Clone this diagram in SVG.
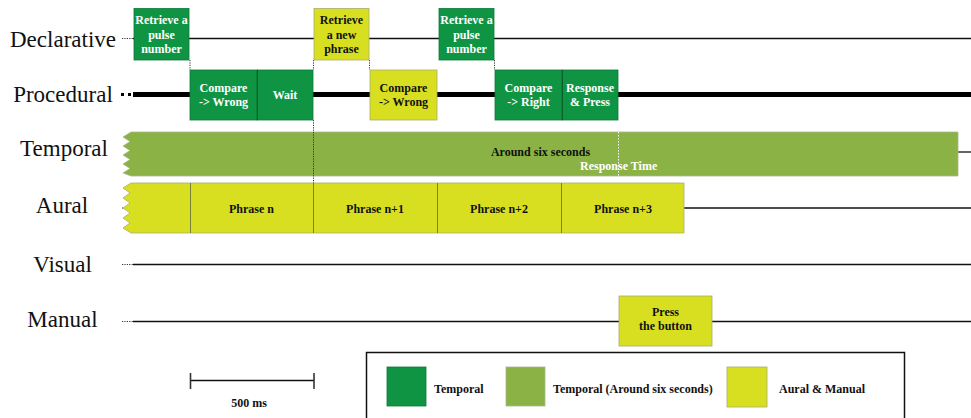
<svg xmlns="http://www.w3.org/2000/svg" width="971" height="418" viewBox="0 0 971 418">
<style>
  .lane { font-family: "Liberation Serif", "Times New Roman", serif; font-size: 23px; fill: #111; text-anchor: middle; }
  .bt { font-family: "Liberation Serif", "Times New Roman", serif; font-size: 12px; font-weight: bold; text-anchor: middle; }
  .w { fill: #ffffff; }
  .k { fill: #111111; }
  .g { fill: #0f9444; stroke: #0b7a37; stroke-width: 0.8; }
  .y { fill: #d8df21; stroke: #a9ad6a; stroke-width: 0.8; }
  .lg { fill: #8bb244; stroke: #a8b890; stroke-width: 0.8; }
  .line { stroke: #111; stroke-width: 1.3; fill: none; }
  .thick { stroke: #000; stroke-width: 5; fill: none; }
  .dot { stroke: #333; stroke-width: 1; stroke-dasharray: 1.2 1.2; fill: none; }
  .wdot { stroke: #ffffff; stroke-width: 1; stroke-dasharray: 1.5 1.5; fill: none; }
  .div { stroke: #7a7f3a; stroke-width: 1; }
  .gdiv { stroke: #0a5f2c; stroke-width: 1; }
  .leg { font-family: "Liberation Serif", "Times New Roman", serif; font-size: 12px; font-weight: bold; fill: #111; }
</style>
<rect width="971" height="418" fill="#ffffff"/>

<g id="lane-labels">
  <text class="lane" x="63" y="47">Declarative</text>
  <text class="lane" x="63" y="102">Procedural</text>
  <text class="lane" x="64" y="156">Temporal</text>
  <text class="lane" x="62" y="213">Aural</text>
  <text class="lane" x="62.5" y="272">Visual</text>
  <text class="lane" x="62.5" y="327">Manual</text>
</g>

<g id="connectors">
  <!-- declarative lane -->
  <line class="dot" x1="122" y1="38.5" x2="133" y2="38.5"/>
  <line class="line" x1="133" y1="38.5" x2="971" y2="38.5"/>
  <!-- procedural lane -->
  <rect x="121" y="93" width="3" height="3" fill="#000"/>
  <rect x="128" y="93" width="3" height="3" fill="#000"/>
  <line class="thick" x1="133" y1="94.5" x2="971" y2="94.5"/>
  <!-- temporal lane tail -->
  <line class="line" x1="958" y1="152" x2="971" y2="152"/>
  <!-- aural lane -->
  <line class="dot" x1="122" y1="208" x2="133" y2="208"/>
  <line class="line" x1="684" y1="208" x2="971" y2="208"/>
  <!-- visual lane -->
  <line class="dot" x1="122" y1="264.5" x2="133" y2="264.5"/>
  <line class="line" x1="133" y1="264.5" x2="971" y2="264.5"/>
  <!-- manual lane -->
  <line class="dot" x1="122" y1="321.5" x2="133" y2="321.5"/>
  <line class="line" x1="133" y1="321.5" x2="971" y2="321.5"/>
  <!-- vertical dotted links -->
  <line class="dot" x1="190" y1="60" x2="190" y2="70"/>
  <line class="dot" x1="313.5" y1="60" x2="313.5" y2="70"/>
  <line class="dot" x1="369.5" y1="60" x2="369.5" y2="70"/>
  <line class="dot" x1="494.5" y1="60" x2="494.5" y2="70"/>
</g>

<g id="temporal-bar">
  <polygon class="lg" points="131,132 958,132 958,176 131,176 123,173 130,168.5 123,164 130,159.5 123,155 130,150.5 123,146 130,141.5 123,137"/>
  <text class="bt k" x="540.5" y="156">Around six seconds</text>
  <text class="bt w" x="580" y="170" style="text-anchor:start">Response Time</text>
</g>

<g id="aural-bar">
  <polygon class="y" points="131,183 684,183 684,233 131,233 123,228 130,223 123,218 130,213 123,208 130,203 123,198 130,193 123,188"/>
  <line class="div" x1="190.5" y1="183" x2="190.5" y2="233"/>
  <line class="div" x1="313.5" y1="183" x2="313.5" y2="233"/>
  <line class="div" x1="437.5" y1="183" x2="437.5" y2="233"/>
  <line class="div" x1="561.5" y1="183" x2="561.5" y2="233"/>
  <text class="bt k" x="251.5" y="213">Phrase n</text>
  <text class="bt k" x="375" y="213">Phrase n+1</text>
  <text class="bt k" x="499" y="213">Phrase n+2</text>
  <text class="bt k" x="623" y="213">Phrase n+3</text>
</g>

<g id="overlay-dots">
  <line class="dot" x1="313.5" y1="120" x2="313.5" y2="183"/>
  <line class="wdot" x1="618.5" y1="132" x2="618.5" y2="176"/>
</g>

<g id="decl-retrieve-1">
  <rect class="g" x="134" y="8.5" width="55" height="51.5"/>
  <text class="bt w" x="161.5" y="24">Retrieve a</text>
  <text class="bt w" x="161.5" y="38.5">pulse</text>
  <text class="bt w" x="161.5" y="53">number</text>
</g>
<g id="decl-retrieve-phrase">
  <rect class="y" x="314" y="8.5" width="55" height="51.5"/>
  <text class="bt k" x="341.5" y="24">Retrieve</text>
  <text class="bt k" x="341.5" y="38.5">a new</text>
  <text class="bt k" x="341.5" y="53">phrase</text>
</g>
<g id="decl-retrieve-2">
  <rect class="g" x="439" y="8.5" width="55" height="51.5"/>
  <text class="bt w" x="466.5" y="24">Retrieve a</text>
  <text class="bt w" x="466.5" y="38.5">pulse</text>
  <text class="bt w" x="466.5" y="53">number</text>
</g>

<g id="proc-compare-wrong-1">
  <rect class="g" x="190" y="70" width="67" height="50"/>
  <text class="bt w" x="223.5" y="92">Compare</text>
  <text class="bt w" x="223.5" y="105.5">-&gt; Wrong</text>
</g>
<g id="proc-wait">
  <rect class="g" x="257" y="70" width="56" height="50"/>
  <line class="gdiv" x1="257.5" y1="70" x2="257.5" y2="120"/>
  <text class="bt w" x="285" y="98.5">Wait</text>
</g>
<g id="proc-compare-wrong-2">
  <rect class="y" x="370" y="70" width="67" height="50"/>
  <text class="bt k" x="403.5" y="92">Compare</text>
  <text class="bt k" x="403.5" y="105.5">-&gt; Wrong</text>
</g>
<g id="proc-compare-right">
  <rect class="g" x="495" y="70" width="67" height="50"/>
  <text class="bt w" x="528.5" y="92">Compare</text>
  <text class="bt w" x="528.5" y="105.5">-&gt; Right</text>
</g>
<g id="proc-response">
  <rect class="g" x="562" y="70" width="56" height="50"/>
  <line class="gdiv" x1="562.5" y1="70" x2="562.5" y2="120"/>
  <text class="bt w" x="590" y="92">Response</text>
  <text class="bt w" x="590" y="105.5">&amp; Press</text>
</g>

<g id="manual-press">
  <rect class="y" x="619" y="296" width="93" height="50"/>
  <text class="bt k" x="665.5" y="316">Press</text>
  <text class="bt k" x="665.5" y="330">the button</text>
</g>

<g id="scale-bar">
  <line class="line" x1="190.5" y1="380.5" x2="314" y2="380.5"/>
  <line stroke="#333" stroke-width="1.6" x1="190.5" y1="373" x2="190.5" y2="389"/>
  <line stroke="#333" stroke-width="1.6" x1="314" y1="373" x2="314" y2="389"/>
  <text class="bt k" x="249" y="407">500 ms</text>
</g>

<g id="legend">
  <rect x="366.5" y="352.5" width="538" height="80" fill="none" stroke="#111" stroke-width="1.5"/>
  <rect class="g" x="387" y="367" width="39" height="39"/>
  <text class="leg" x="434" y="393">Temporal</text>
  <rect class="lg" x="506" y="367" width="39" height="39"/>
  <text class="leg" x="553" y="393">Temporal (Around six seconds)</text>
  <rect class="y" x="727" y="367" width="40" height="40"/>
  <text class="leg" x="779" y="393">Aural &amp; Manual</text>
</g>
</svg>
